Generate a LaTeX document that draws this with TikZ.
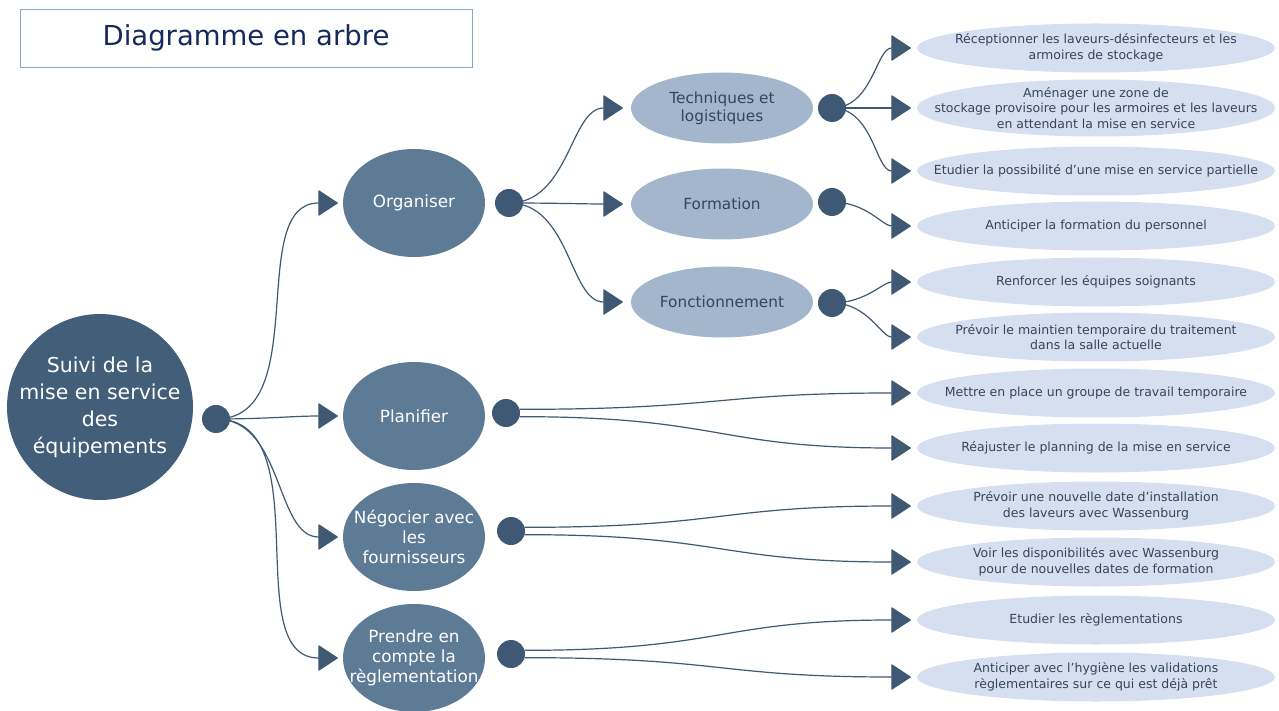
\documentclass[tikz,border=0pt]{standalone}
\usepackage{fontspec}
\setmainfont{DejaVu Sans}
\usepackage{xcolor}
\usetikzlibrary{arrows.meta,shapes.geometric}
\definecolor{rootblue}{HTML}{425E79}
\definecolor{midblue}{HTML}{5E7B96}
\definecolor{softblue}{HTML}{A4B6CB}
\definecolor{leafblue}{HTML}{D6DFF0}
\definecolor{dotblue}{HTML}{3F5873}
\definecolor{inkblue}{HTML}{34465B}
\definecolor{titleblue}{HTML}{16295C}
\definecolor{frameblue}{HTML}{8AA4C4}
\tikzset{
  rootnode/.style={circle, fill=rootblue, minimum size=186pt, inner sep=0pt,
                   label={[text=white, align=center, font=\fontsize{20.5pt}{27pt}\selectfont]center:#1}},
  mainnode/.style={ellipse, fill=midblue, minimum width=142pt, minimum height=108pt, inner sep=0pt,
                   label={[text=white, align=center, font=\fontsize{16.8pt}{20pt}\selectfont]center:#1}},
  subnode/.style={ellipse, fill=softblue, minimum width=182pt, minimum height=71pt, inner sep=0pt,
                  label={[text=inkblue, align=center, font=\fontsize{15.3pt}{18pt}\selectfont]center:#1}},
  leafnode/.style={ellipse, fill=leafblue, minimum width=358pt, minimum height=49pt, inner sep=0pt,
                   label={[text=inkblue, align=center, font=\fontsize{12.5pt}{15.5pt}\selectfont]center:#1}},
  dotnode/.style={circle, fill=dotblue, minimum size=28pt, inner sep=0pt},
  lnk/.style={draw=dotblue, line width=1.2pt, -{Triangle[length=20pt,width=26pt,round]}, shorten >=#1},
  lnk/.default=6pt,
}
\begin{document}
\begin{tikzpicture}[x=1pt, y=1pt]
  \useasboundingbox (0,0) rectangle (1279,-711);
  % title
  \node[draw=frameblue, line width=0.8pt, minimum width=452pt, minimum height=58pt,
        text=titleblue, font=\fontsize{27.5pt}{33pt}\selectfont] (title) at (246,-38) {Diagramme en arbre};
  % root
  \node[rootnode={Suivi de la\\mise en service\\des\\équipements}] (root) at (100,-407) {};
  \node[dotnode] (rootdot) at (216,-419) {};
  % first level
  \node[mainnode={Organiser}] (org) at (414,-203) {};
  \node[mainnode={Planifier}] (plan) at (414,-416) {};
  \node[mainnode={Négocier avec\\les\\fournisseurs}] (nego) at (414,-537) {};
  \node[mainnode={Prendre en\\compte la\\règlementation}] (regl) at (414,-658) {};
  \node[dotnode] (orgdot) at (509,-203) {};
  \node[dotnode] (plandot) at (506,-413) {};
  \node[dotnode] (negodot) at (511,-531) {};
  \node[dotnode] (regldot) at (511,-654) {};
  % second level
  \node[subnode={Techniques et\\logistiques}] (tech) at (722,-108) {};
  \node[subnode={Formation}] (form) at (722,-204) {};
  \node[subnode={Fonctionnement}] (fonc) at (722,-302) {};
  \node[dotnode] (techdot) at (832,-108) {};
  \node[dotnode] (formdot) at (832,-202) {};
  \node[dotnode] (foncdot) at (832,-303) {};
  % actions
  \node[leafnode={Réceptionner les laveurs-désinfecteurs et les\\armoires de stockage}] (recep) at (1096,-48) {};
  \node[leafnode={Aménager une zone de\\stockage provisoire pour les armoires et les laveurs\\en attendant la mise en service}, minimum height=57pt] (zone) at (1096,-108) {};
  \node[leafnode={Etudier la possibilité d’une mise en service partielle}] (partiel) at (1096,-171) {};
  \node[leafnode={Anticiper la formation du personnel}] (anticip) at (1096,-226) {};
  \node[leafnode={Renforcer les équipes soignants}] (renfort) at (1096,-282) {};
  \node[leafnode={Prévoir le maintien temporaire du traitement\\dans la salle actuelle}] (maintien) at (1096,-337) {};
  \node[leafnode={Mettre en place un groupe de travail temporaire}] (groupe) at (1096,-393) {};
  \node[leafnode={Réajuster le planning de la mise en service}] (planning) at (1096,-448) {};
  \node[leafnode={Prévoir une nouvelle date d’installation\\des laveurs avec Wassenburg}] (install) at (1096,-506) {};
  \node[leafnode={Voir les disponibilités avec Wassenburg\\pour de nouvelles dates de formation}] (dispo) at (1096,-562) {};
  \node[leafnode={Etudier les règlementations}] (etude) at (1096,-620) {};
  \node[leafnode={Anticiper avec l’hygiène les validations\\règlementaires sur ce qui est déjà prêt}] (hygiene) at (1096,-677) {};
  % links from the root
  \foreach \n in {org,plan,nego,regl}
    \draw[lnk=5pt] (rootdot.center) to[out=0,in=180] (\n.west);
  % links to the second level
  \foreach \n in {tech,form,fonc}
    \draw[lnk=8pt] (orgdot.center) to[out=0,in=180] (\n.west);
  % links to the actions
  \foreach \n in {recep,zone,partiel}
    \draw[lnk] (techdot.center) to[out=0,in=180] (\n.west);
  \draw[lnk] (formdot.center) to[out=0,in=180] (anticip.west);
  \draw[lnk] (foncdot.center) to[out=0,in=180] (renfort.west);
  \draw[lnk] (foncdot.center) to[out=0,in=180] (maintien.west);
  \draw[lnk, looseness=1.3] (plandot.15) to[out=0,in=180] (groupe.west);
  \draw[lnk, looseness=1.3] (plandot.-15) to[out=0,in=180] (planning.west);
  \draw[lnk, looseness=1.3] (negodot.15) to[out=0,in=180] (install.west);
  \draw[lnk, looseness=1.3] (negodot.-15) to[out=0,in=180] (dispo.west);
  \draw[lnk, looseness=1.3] (regldot.15) to[out=0,in=180] (etude.west);
  \draw[lnk, looseness=1.3] (regldot.-15) to[out=0,in=180] (hygiene.west);
\end{tikzpicture}
\end{document}
